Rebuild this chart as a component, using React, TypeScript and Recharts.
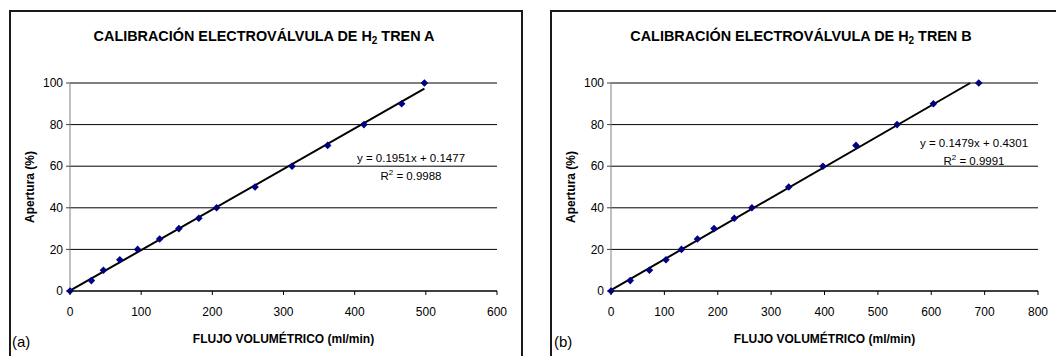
import React from "react";
import {
  CartesianGrid,
  Scatter,
  ScatterChart,
  XAxis,
  YAxis
} from "recharts";

// apertura (%) vs flujo volumétrico (ml/min)
const openingA = [0, 5, 10, 15, 20, 25, 30, 35, 40, 50, 60, 70, 80, 90, 100];
const flowA = [0, 30, 47, 70, 95, 126, 153, 181, 206, 260, 312, 362, 413, 466, 498];

const openingB = [0, 5, 10, 15, 20, 25, 30, 35, 40, 50, 60, 70, 80, 90, 100];
const flowB = [0, 36, 72, 103, 132, 162, 193, 231, 264, 333, 397, 459, 536, 604, 689];

// extremos de la línea de tendencia (lineal)
const trendFlowA = [0, 498];
const trendOpeningA = [0.15, 97.3];
const trendFlowB = [0, 673];
const trendOpeningB = [0.43, 100];

const yTicks = [0, 20, 40, 60, 80, 100];
const xTicksA = [0, 100, 200, 300, 400, 500, 600];
const xTicksB = [0, 100, 200, 300, 400, 500, 600, 700, 800];

const FONT = "'Liberation Sans', Arial, sans-serif";

const toPoints = (xs: number[], ys: number[]) => xs.map((x, i) => ({ x, y: ys[i] }));

function Diamond(props: any) {
  const { cx, cy } = props;
  if (cx == null || cy == null) return <g />;
  const r = 3.8;
  return (
    <polygon
      fill="#000080"
      points={`${cx},${cy - r} ${cx + r},${cy} ${cx},${cy + r} ${cx - r},${cy}`}
    />
  );
}

// título de eje dentro del svg, centrado en el área de la gráfica
function AxisTitle(props: any) {
  const { viewBox, text, vertical, dx = 0 } = props;
  if (!viewBox) return null;
  const { x, y, width, height } = viewBox;
  const common = {
    fill: "#000",
    fontFamily: FONT,
    fontSize: 12,
    fontWeight: "bold" as const,
    textAnchor: "middle" as const
  };
  if (vertical) {
    const cx = x + dx;
    const cy = y + height / 2;
    return (
      <text {...common} transform={`rotate(-90 ${cx} ${cy})`} x={cx} y={cy + 4}>
        {text}
      </text>
    );
  }
  return (
    <text {...common} x={x + width / 2} y={y + height}>
      {text}
    </text>
  );
}

type PanelProps = {
  left: number;
  width: number;
  marginLeft: number;
  marginRight: number;
  xMax: number;
  xTicks: number[];
  points: { x: number; y: number }[];
  trend: { x: number; y: number }[];
};

function Panel({ left, width, marginLeft, marginRight, xMax, xTicks, points, trend }: PanelProps) {
  const tickStyle = { fill: "#000", fontSize: 12, fontFamily: FONT };

  return (
    <div style={{ position: "absolute", left, top: 0 }}>
      <ScatterChart
        height={356}
        margin={{ top: 83, right: marginRight, bottom: 13, left: marginLeft }}
        width={width}
      >
        <CartesianGrid horizontal stroke="#000" vertical={false} />
        <XAxis
          axisLine={{ stroke: "#000" }}
          dataKey="x"
          domain={[0, xMax]}
          height={52}
          label={<AxisTitle text="FLUJO VOLUMÉTRICO (ml/min)" />}
          tick={tickStyle}
          tickLine={{ stroke: "#000" }}
          tickMargin={12}
          tickSize={4}
          ticks={xTicks}
          type="number"
        />
        <YAxis
          axisLine={{ stroke: "#808080" }}
          dataKey="y"
          domain={[0, 100]}
          label={<AxisTitle dx={20} text="Apertura (%)" vertical />}
          tick={tickStyle}
          tickLine={{ stroke: "#404040" }}
          tickMargin={3}
          tickSize={4}
          ticks={yTicks}
          type="number"
          width={60}
        />
        <Scatter
          data={trend}
          isAnimationActive={false}
          line={{ stroke: "#000", strokeWidth: 2 }}
          lineType="joint"
          shape={() => <g />}
        />
        <Scatter data={points} isAnimationActive={false} shape={Diamond} />
      </ScatterChart>
    </div>
  );
}

const boxStyle: React.CSSProperties = {
  position: "absolute",
  top: 10,
  height: 360,
  border: "2px solid #1a1a1a",
  boxSizing: "border-box"
};

const titleStyle: React.CSSProperties = {
  position: "absolute",
  top: 28,
  width: 460,
  textAlign: "center",
  fontFamily: FONT,
  fontSize: 14.4,
  fontWeight: "bold",
  lineHeight: "16px",
  whiteSpace: "nowrap"
};

const eqStyle: React.CSSProperties = {
  position: "absolute",
  width: 160,
  textAlign: "center",
  fontFamily: FONT,
  fontSize: 11.5,
  lineHeight: "18px",
  whiteSpace: "nowrap"
};

const tagStyle: React.CSSProperties = {
  position: "absolute",
  top: 333,
  fontFamily: FONT,
  fontSize: 15,
  lineHeight: "17px"
};

const subStyle: React.CSSProperties = { fontSize: 10, verticalAlign: "-3px", lineHeight: 0 };
const supStyle: React.CSSProperties = { fontSize: 8, verticalAlign: "5px", lineHeight: 0 };

export default function App() {
  return (
    <div
      style={{
        position: "absolute",
        left: 0,
        top: 0,
        width: 1056,
        height: 356,
        overflow: "hidden",
        background: "#fff",
        color: "#000"
      }}
    >
      <div style={{ ...boxStyle, left: 9, width: 514 }} />
      <div style={{ ...boxStyle, left: 550, width: 520 }} />

      <Panel
        left={0}
        marginLeft={10}
        marginRight={25}
        points={toPoints(flowA, openingA)}
        trend={toPoints(trendFlowA, trendOpeningA)}
        width={522}
        xMax={600}
        xTicks={xTicksA}
      />
      <Panel
        left={526}
        marginLeft={25}
        marginRight={18}
        points={toPoints(flowB, openingB)}
        trend={toPoints(trendFlowB, trendOpeningB)}
        width={530}
        xMax={800}
        xTicks={xTicksB}
      />

      <div style={{ ...titleStyle, left: 264 - 230 }}>
        CALIBRACIÓN ELECTROVÁLVULA DE H<span style={subStyle}>2</span> TREN A
      </div>
      <div style={{ ...titleStyle, left: 801 - 230 }}>
        CALIBRACIÓN ELECTROVÁLVULA DE H<span style={subStyle}>2</span> TREN B
      </div>

      <div style={{ ...eqStyle, left: 411 - 80, top: 149 }}>
        <div>y = 0.1951x + 0.1477</div>
        <div>
          R<span style={supStyle}>2</span> = 0.9988
        </div>
      </div>
      <div style={{ ...eqStyle, left: 974 - 80, top: 134 }}>
        <div>y = 0.1479x + 0.4301</div>
        <div>
          R<span style={supStyle}>2</span> = 0.9991
        </div>
      </div>

      <div style={{ ...tagStyle, left: 12 }}>(a)</div>
      <div style={{ ...tagStyle, left: 554 }}>(b)</div>
    </div>
  );
}
